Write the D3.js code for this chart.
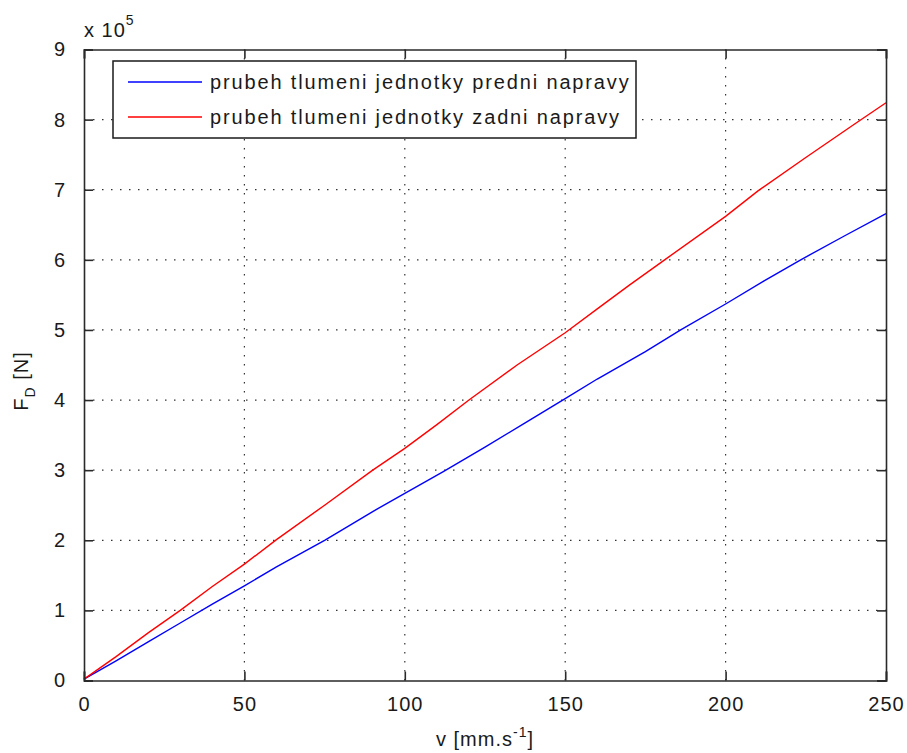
<!DOCTYPE html>
<html><head><meta charset="utf-8">
<script src="https://cdn.jsdelivr.net/npm/d3@7"></script>
<style>body{margin:0;background:#fff}svg{display:block}text{font-family:"Liberation Sans",Arial,sans-serif;fill:#1a1a1a}</style>
</head><body>
<svg id="c" width="907" height="753"></svg>
<script>
// data (F_D in units of 1e5 N)
const vFront = [0, 10, 20, 30, 40, 50, 60, 75, 90, 100, 112, 125, 137, 150, 160, 175, 186, 200, 212, 223, 237, 250];
const fFront = [0.02, 0.28, 0.55, 0.82, 1.09, 1.35, 1.62, 2.0, 2.41, 2.67, 2.98, 3.33, 3.66, 4.02, 4.30, 4.69, 5.0, 5.37, 5.70, 5.99, 6.34, 6.66];
const vRear = [0, 10, 20, 30, 40, 50, 60, 75, 90, 100, 110, 120, 135, 150, 160, 170, 181, 200, 210, 225, 240, 250];
const fRear = [0.02, 0.34, 0.68, 1.0, 1.34, 1.66, 2.01, 2.5, 3.0, 3.31, 3.65, 4.0, 4.5, 4.96, 5.3, 5.64, 6.0, 6.62, 6.98, 7.46, 7.93, 8.24];
const xTicks = [0, 50, 100, 150, 200, 250];
const yTicks = [0, 1, 2, 3, 4, 5, 6, 7, 8, 9];
const seriesNames = ["prubeh tlumeni jednotky predni napravy", "prubeh tlumeni jednotky zadni napravy"];
const seriesColors = ["#0000ff", "#ff0000"];

const svg = d3.select("#c");
const L = 84, R = 886, T = 49.5, B = 680.5;
const x = d3.scaleLinear().domain([0, 250]).range([L, R]);
const y = d3.scaleLinear().domain([0, 9]).range([B, T]);
const FS = 20, LS = 1;

// grid
const g = svg.append("g");
g.selectAll(".gx").data(xTicks.slice(1, -1)).join("line")
  .attr("x1", d => x(d)).attr("x2", d => x(d)).attr("y1", B).attr("y2", T)
  .attr("stroke", "#333").attr("stroke-width", 1.2).attr("stroke-dasharray", "1.5,7.5");
g.selectAll(".gy").data(yTicks.slice(1, -1)).join("line")
  .attr("y1", d => y(d)).attr("y2", d => y(d)).attr("x1", L).attr("x2", R)
  .attr("stroke", "#333").attr("stroke-width", 1.2).attr("stroke-dasharray", "1.5,7.5");

// lines
const line = d3.line().x(d => x(d[0])).y(d => y(d[1]));
const series = [d3.zip(vFront, fFront), d3.zip(vRear, fRear)];
series.forEach((s, i) => {
  svg.append("path").datum(s).attr("d", line).attr("fill", "none")
    .attr("stroke", seriesColors[i]).attr("stroke-width", 1.4);
});

// axes (box with inward ticks)
const axB = d3.axisBottom(x).tickValues(xTicks).tickSize(-9).tickPadding(16).tickFormat(d3.format("d"));
const axT = d3.axisTop(x).tickValues(xTicks).tickSize(-9).tickFormat("");
const axL = d3.axisLeft(y).tickValues(yTicks).tickSize(-9).tickPadding(18).tickFormat(d3.format("d"));
const axR = d3.axisRight(y).tickValues(yTicks).tickSize(-9).tickFormat("");
function style(sel) {
  sel.selectAll("path").attr("stroke", "#2a2a2a").attr("stroke-width", 1.6);
  sel.selectAll("line").attr("stroke", "#2a2a2a").attr("stroke-width", 1.6);
  sel.selectAll("text").attr("font-size", FS).attr("letter-spacing", LS).attr("fill", "#1a1a1a").attr("font-family", "Liberation Sans, Arial, sans-serif");
}
svg.append("g").attr("transform", `translate(0,${B})`).call(axB).call(style);
svg.append("g").attr("transform", `translate(0,${T})`).call(axT).call(style);
svg.append("g").attr("transform", `translate(${L},0)`).call(axL).call(style);
svg.append("g").attr("transform", `translate(${R},0)`).call(axR).call(style);

// exponent label
const ex = svg.append("text").attr("x", 84).attr("y", 37).attr("font-size", FS).attr("letter-spacing", LS);
ex.append("tspan").text("x 10");
ex.append("tspan").attr("dy", -12).attr("font-size", 14).text("5");

// axis titles
const xl = svg.append("text").attr("x", 485).attr("y", 746).attr("text-anchor", "middle").attr("font-size", FS).attr("letter-spacing", LS);
xl.append("tspan").text("v [mm.s");
xl.append("tspan").attr("dy", -9).attr("font-size", 14).text("-1");
xl.append("tspan").attr("dy", 9).text("]");

const yl = svg.append("text").attr("transform", "translate(28,381) rotate(-90)").attr("text-anchor", "middle").attr("font-size", FS).attr("letter-spacing", LS);
yl.append("tspan").text("F");
yl.append("tspan").attr("dy", 7).attr("font-size", 14).text("D");
yl.append("tspan").attr("dy", -7).text(" [N]");

// legend
const lg = svg.append("g");
lg.append("rect").attr("x", 113).attr("y", 61).attr("width", 523).attr("height", 77)
  .attr("fill", "#fff").attr("stroke", "#1a1a1a").attr("stroke-width", 1.5);
seriesNames.forEach((n, i) => {
  const yy = 82 + i * 35;
  lg.append("line").attr("x1", 128).attr("x2", 202).attr("y1", yy).attr("y2", yy)
    .attr("stroke", seriesColors[i]).attr("stroke-width", 1.4);
  lg.append("text").attr("x", 210).attr("y", yy + 7).attr("font-size", FS).attr("letter-spacing", 1.85).text(n);
});
</script>
</body></html>
